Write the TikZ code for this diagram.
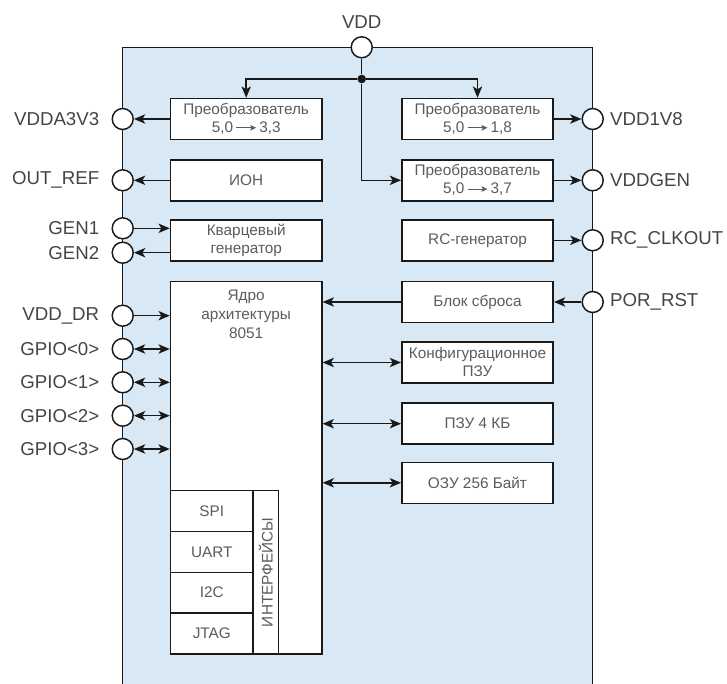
\documentclass[tikz,border=0pt]{standalone}
\usepackage{fontspec}
\setmainfont{Liberation Sans}
\usetikzlibrary{arrows.meta, positioning, calc}
\definecolor{panelblue}{RGB}{216,233,245}
\definecolor{txtgray}{RGB}{92,92,92}
\definecolor{pingray}{RGB}{68,68,68}
\definecolor{wire}{RGB}{25,25,25}
\tikzset{
    block/.style={rectangle, draw=wire, fill=white, line width=1.1pt, minimum width=113.5pt, minimum height=30.75pt, inner sep=0pt, align=center, text=txtgray, font=\fontsize{11.5}{13.5}\selectfont},
    cell/.style={rectangle, draw=wire, fill=white, line width=1.1pt, minimum width=61.7pt, minimum height=30.6pt, inner sep=0pt, text=txtgray, font=\fontsize{11.5}{13.5}\selectfont},
    pad/.style={circle, draw=wire, fill=white, line width=1.1pt, minimum size=15.75pt, inner sep=0pt},
    padlbl/.style={text=pingray, font=\fontsize{14}{17}\selectfont, inner sep=0pt},
    lpad/.style={pad, label={[padlbl, label distance=9pt]left:#1}},
    rpad/.style={pad, label={[padlbl, label distance=4.5pt]right:#1}},
    junction/.style={circle, fill=wire, minimum size=6.5pt, inner sep=0pt},
    sig/.style={line width=1.1pt, draw=wire}
}
% arrow inside the converter labels
\newcommand{\convto}{\,\tikz[baseline=-0.6ex, x=1pt, y=1pt]\draw[line width=0.8pt, -{Stealth[length=4.5pt, width=4.2pt, inset=1pt]}] (0,0) -- (15,0);\,}

\begin{document}
\begin{tikzpicture}[x=0.75pt, y=-0.75pt, >={Stealth[length=8.5pt, width=7pt, inset=2.2pt]}]
        \useasboundingbox (0,0) rectangle (727,684);

        % Chip body
        \fill[panelblue] (122.7,47.3) rectangle (592.7,684);
        \draw[sig] (122.7,684) -- (122.7,47.3) -- (592.7,47.3) -- (592.7,684);

        % Pads
        \node[pad, label={[padlbl, label distance=5.5pt]above:VDD}] (vdd) at (361.7,47.3) {};
        \node[lpad=VDDA3V3] (vdda) at (122.7,119) {};
        \node[lpad=OUT\_REF] (outref) at (122.7,180.3) {};
        \node[lpad=GEN1] (gen1) at (122.7,228.3) {};
        \node[lpad=GEN2] (gen2) at (122.7,252.7) {};
        \node[lpad=VDD\_DR] (vdddr) at (122.7,315.7) {};
        \foreach \i/\yy in {0/349, 1/382.3, 2/415.7, 3/449} {
            \node[lpad=GPIO<\i>] (gpio\i) at (122.7,\yy) {};
        }
        \node[rpad=VDD1V8] (vdd1v8) at (592.7,119) {};
        \node[rpad=VDDGEN] (vddgen) at (592.7,180.3) {};
        \node[rpad=RC\_CLKOUT] (rcclk) at (592.7,240.3) {};
        \node[rpad=POR\_RST] (porrst) at (592.7,302) {};

        % Blocks
        \node[block] (conv33) at (246.2,119) {Преобразователь\\5,0\convto3,3};
        \node[block] (conv18) at (477.5,119) {Преобразователь\\5,0\convto1,8};
        \node[block] (ion) at (246.2,180.3) {ИОН};
        \node[block] (conv37) at (477.5,180.3) {Преобразователь\\5,0\convto3,7};
        \node[block] (kvarts) at (246.2,240.3) {Кварцевый\\генератор};
        \node[block] (rc) at (477.5,240.3) {RC-генератор};
        \node[block] (blok) at (477.5,302) {Блок сброса};
        \node[block] (konfig) at (477.5,362.5) {Конфигурационное\\ПЗУ};
        \node[block] (pzu) at (477.5,423.7) {ПЗУ 4 КБ};
        \node[block] (ozu) at (477.5,482.8) {ОЗУ 256 Байт};

        % Core and interfaces
        \node[block, minimum height=279.2pt] (core) at (246.2,467.85) {};
        \node[anchor=north, align=center, inner sep=0pt, text=txtgray, font=\fontsize{11.5}{14}\selectfont] (coretxt) at (246.2,290) {Ядро\\архитектуры\\8051};
        \foreach \n/\t [count=\k] in {spi/SPI, uart/UART, i2c/I2C, jtag/JTAG} {
            \node[cell] (\n) at (211.85,470.3+\k*40.8) {\t};
        }
        \node[cell, rotate=90, minimum width=122.5pt, minimum height=19pt] (ifc) at (265.65,572.35) {ИНТЕРФЕЙСЫ};

        % Power tree
        \node[junction] (junc) at (361.7,79) {};
        \draw[sig] (vdd) -- (junc);
        \draw[sig,->] (junc) -| (conv33);
        \draw[sig,->] (junc) -| (conv18);
        \draw[sig,->] (junc) |- (conv37);

        % Signals
        \draw[sig,->] (conv33) -- (vdda);
        \draw[sig,->] (conv18) -- (vdd1v8);
        \draw[sig,->] (ion) -- (outref);
        \draw[sig,->] (conv37) -- (vddgen);
        \draw[sig,->] (rc) -- (rcclk);
        \draw[sig,->] (gen1) -- (gen1 -| kvarts.west);
        \draw[sig,->] (gen2 -| kvarts.west) -- (gen2);
        \draw[sig,->] (porrst) -- (blok);
        \draw[sig,->] (blok) -- (blok -| core.east);
        \draw[sig,->] (vdddr) -- (vdddr -| core.west);
        \foreach \i in {0,...,3} {
            \draw[sig,<->] (gpio\i) -- (gpio\i -| core.west);
        }
        \foreach \m in {konfig, pzu, ozu} {
            \draw[sig,<->] (\m) -- (\m -| core.east);
        }
    \end{tikzpicture}
\end{document}
